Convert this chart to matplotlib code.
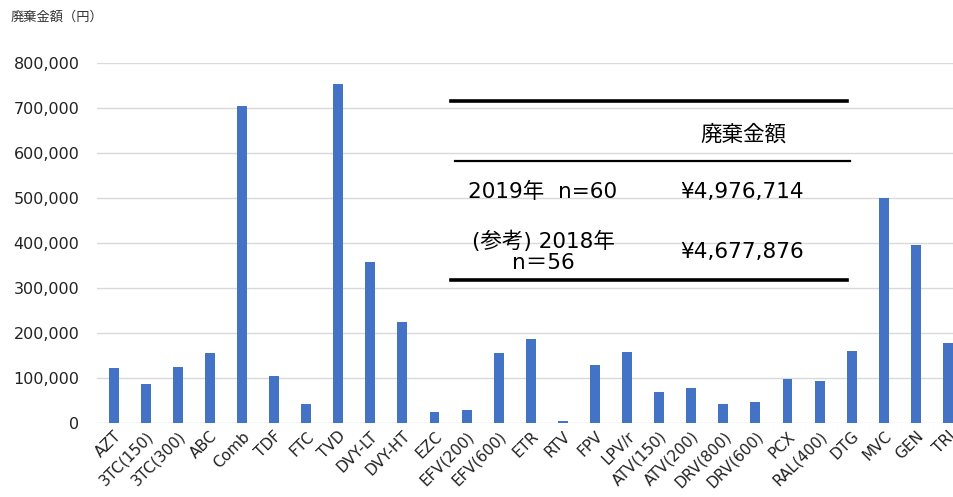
import matplotlib.pyplot as plt
from matplotlib.lines import Line2D
from matplotlib.ticker import FuncFormatter

plt.rcParams['font.family'] = ['DejaVu Sans', 'Noto Sans CJK JP']

# Waste amount (yen) per drug
drugs = ['AZT', '3TC(150)', '3TC(300)', 'ABC', 'Comb', 'TDF', 'FTC', 'TVD', 'DVY-LT', 'DVY-HT',
         'EZC', 'EFV(200)', 'EFV(600)', 'ETR', 'RTV', 'FPV', 'LPV/r', 'ATV(150)', 'ATV(200)',
         'DRV(800)', 'DRV(600)', 'PCX', 'RAL(400)', 'DTG', 'MVC', 'GEN', 'TRI']
amounts = [122000, 86000, 124000, 155000, 704000, 104000, 42000, 753000, 358000, 224000,
           24000, 29000, 155000, 187000, 4000, 129000, 158000, 69000, 78000,
           42000, 47000, 98000, 93000, 160000, 500000, 396000, 178000]
yticks = [0, 100000, 200000, 300000, 400000, 500000, 600000, 700000, 800000]

# summary table text
table_header = '廃棄金額'
table_rows = [('2019年  n=60', '¥4,976,714'),
              ('(参考) 2018年\nn＝56', '¥4,677,876')]

fig = plt.figure(figsize=(9.54, 4.97), dpi=100)
ax = fig.add_axes([0.1022, 0.1489, 0.9083, 0.7243])

x = range(len(drugs))
ax.bar(x, amounts, width=0.31, color='#4472C4', zorder=3)
ax.set_xlim(-0.5, len(drugs) - 0.5)
ax.set_ylim(0, 800000)
ax.set_yticks(yticks)
ax.yaxis.set_major_formatter(FuncFormatter(lambda v, p: f'{int(v):,}'))
ax.grid(axis='y', color='#d9d9d9', linewidth=1, zorder=0)
for s in ax.spines.values():
    s.set_visible(False)
ax.tick_params(axis='both', length=0, labelsize=11.5, colors='#222222')
ax.tick_params(axis='y', pad=13)
ax.set_xticks(list(x))
ax.set_xticklabels(drugs, rotation=45, ha='right', rotation_mode='anchor', fontsize=11)
ax.tick_params(axis='x', pad=4)

fig.text(0.011, 0.965, '廃棄金額（円）', fontsize=9.5, color='#333333', va='center')

# table drawn over the plot
lw_thick = 2.6
fig.add_artist(Line2D([451 / 954, 847 / 954], [1 - 101 / 497] * 2, color='black', lw=lw_thick))
fig.add_artist(Line2D([455 / 954, 850 / 954], [1 - 161 / 497] * 2, color='black', lw=1.6))
fig.add_artist(Line2D([451 / 954, 847 / 954], [1 - 280 / 497] * 2, color='black', lw=lw_thick))

fs = 15.5
fig.text(743 / 954, 1 - 134 / 497, table_header, fontsize=15.5, ha='center', va='center')
row_y = [192, 252]
for (left, right), yy in zip(table_rows, row_y):
    fig.text(543 / 954, 1 - yy / 497, left, fontsize=fs, ha='center', va='center', linespacing=1.08)
    fig.text(742 / 954, 1 - yy / 497, right, fontsize=fs, ha='center', va='center')

fig.savefig('out.png', dpi=100)
